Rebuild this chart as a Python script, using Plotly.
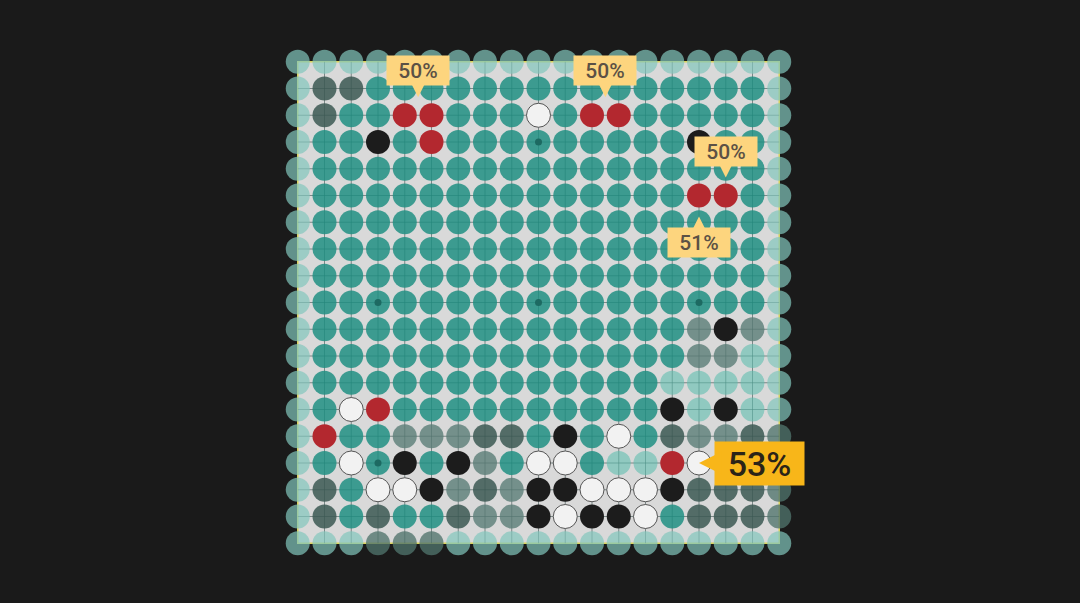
import plotly.graph_objects as go

# ---------------- data ----------------
# Board state per intersection (row 0 = top). Codes:
# e = edge (light), g = edge (grey), T = teal, L = light teal,
# D = dark grey, M = mid grey, B = black stone, W = white stone, R = red stone
board_rows = [
    "eeeeeeeeeeeeeeeeeee",
    "eDDTTTTTTTTTTTTTTTe",
    "eDTTRRTTTWTRRTTTTTe",
    "eTTBTRTTTTTTTTTBTTe",
    "eTTTTTTTTTTTTTTTTTe",
    "eTTTTTTTTTTTTTTRRTe",
    "eTTTTTTTTTTTTTTTTTe",
    "eTTTTTTTTTTTTTTTTTe",
    "eTTTTTTTTTTTTTTTTTe",
    "eTTTTTTTTTTTTTTTTTe",
    "eTTTTTTTTTTTTTTMBMe",
    "eTTTTTTTTTTTTTTMMLe",
    "eTTTTTTTTTTTTTLLLLe",
    "eTWRTTTTTTTTTTBLBLe",
    "eRTTMMMDDTBTWTDMMDg",
    "eTWTBTBMTWWTLLRWDDg",
    "eDTWWBMDMBBWWWBDDDg",
    "eDTDTTDMMBWBBWTDDDg",
    "eeeggge" + "eeeeeeeeeeee",
]
star_lines = [3, 9, 15]

label_texts = ["50%", "50%", "50%", "51%", "53%"]
label_cols = [4.5, 11.5, 16, 15, 15]
label_rows = [2, 2, 5, 5, 15]

# ---------------- styles ----------------
N = len(board_rows)
fill = {
    "e": "rgba(130,198,188,0.70)",
    "g": "rgba(80,115,108,0.78)",
    "T": "rgba(32,143,131,0.85)",
    "L": "rgba(95,190,175,0.60)",
    "D": "rgba(60,90,84,0.86)",
    "M": "rgba(90,125,119,0.80)",
    "B": "#1c1c1c",
    "W": "#f2f2f2",
    "R": "#b3282f",
}

xs, ys, cols, lcols, lws = [], [], [], [], []
for r, row in enumerate(board_rows):
    for c, code in enumerate(row):
        xs.append(c)
        ys.append(r)
        cols.append(fill[code])
        lcols.append("#555555" if code == "W" else "rgba(0,0,0,0)")
        lws.append(1 if code == "W" else 0)

sx, sy = [], []
for r in star_lines:
    for c in star_lines:
        if board_rows[r][c] not in "BWR":
            sx.append(c)
            sy.append(r)

fig = go.Figure()
fig.add_trace(go.Scatter(
    x=xs, y=ys, mode="markers", hoverinfo="skip",
    marker=dict(size=24, color=cols, line=dict(color=lcols, width=lws)),
))
fig.add_trace(go.Scatter(
    x=sx, y=sy, mode="markers", hoverinfo="skip",
    marker=dict(size=7, color="#1d6a62"),
))

shapes = [dict(type="rect", x0=0, x1=N - 1, y0=0, y1=N - 1, layer="below",
               fillcolor="#d9d9d9", line=dict(color="#d9d25c", width=1.5))]
for i in range(1, N - 1):
    shapes.append(dict(type="line", x0=i, x1=i, y0=0, y1=N - 1, layer="below",
                       line=dict(color="rgba(45,70,68,0.55)", width=1)))
    shapes.append(dict(type="line", x0=0, x1=N - 1, y0=i, y1=i, layer="below",
                       line=dict(color="rgba(45,70,68,0.55)", width=1)))

# label styling (pixel offsets of the box centre from the target point)
offsets = [(0, -45), (0, -45), (0, -44), (0, 47), (60, 0)]
standoffs = [18, 18, 18, 21, 0]
annotations = []
for i, (t, c, r) in enumerate(zip(label_texts, label_cols, label_rows)):
    big = i == len(label_texts) - 1
    ax, ay = offsets[i]
    annotations.append(dict(
        x=c, y=r, xref="x", yref="y", text=t,
        showarrow=True, ax=ax, ay=ay, standoff=standoffs[i],
        arrowhead=2, arrowsize=1.1 if not big else 0.9,
        arrowwidth=3 if not big else 5,
        arrowcolor="#f8b619" if big else "#fdd57e",
        bgcolor="#f8b619" if big else "#fdd57e",
        borderpad=4,
        width=81 if big else 54, height=35 if big else 21,
        font=dict(family="Roboto", size=34 if big else 21,
                  color="#2b2418" if big else "#5b5145", weight=500),
    ))

fig.update_layout(
    width=1080, height=603,
    paper_bgcolor="#1a1a1a", plot_bgcolor="#1a1a1a",
    margin=dict(l=271, r=274, t=35, b=33),
    showlegend=False,
    xaxis=dict(range=[-1, N], visible=False, fixedrange=True),
    yaxis=dict(range=[N, -1], visible=False, fixedrange=True),
    shapes=shapes, annotations=annotations,
)

fig.write_html(
    "out.html",
    config={"displayModeBar": False, "staticPlot": True},
    post_script="document.body.style.margin='0';"
                "document.body.style.background='#1a1a1a';"
                "document.body.style.overflow='hidden';",
)
